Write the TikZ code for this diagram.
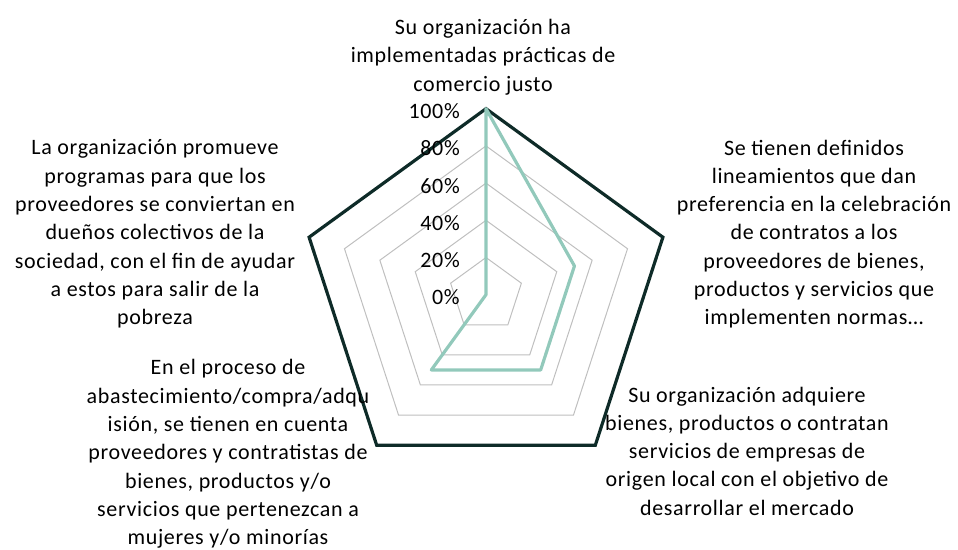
\documentclass[tikz,border=0pt]{standalone}
\usepackage{fontspec}
\setmainfont{Carlito}[LetterSpace=3]
\definecolor{serieA}{HTML}{92C9BB}
\definecolor{serieB}{HTML}{0E2B28}
\definecolor{gridc}{HTML}{BFBFBF}
\tikzset{
  lbl/.style={align=center, inner sep=0pt, font=\fontsize{16.5}{21.2}\selectfont},
  pct/.style={anchor=east, inner sep=0pt, font=\fontsize{16.5}{21}\selectfont},
  gridline/.style={draw=gridc, line width=0.75pt},
  outerline/.style={draw=serieB, line width=2.4pt, line join=miter},
  dataline/.style={draw=serieA, line width=2.4pt, line join=round}
}
\begin{document}
\begin{tikzpicture}[x=0.75pt, y=-0.75pt]
\useasboundingbox (0,0) rectangle (958,550);
\begin{scope}[shift={(486,294.7)}, x=0.75pt, y=0.75pt]
  \coordinate (C) at (0,0);
  \foreach \k in {1,2,3,4} {
    \draw[gridline] (90:{\k*37.2}) -- (18:{\k*37.2}) -- (-54:{\k*37.2}) -- (-126:{\k*37.2}) -- (162:{\k*37.2}) -- cycle;
  }
  \coordinate (v1) at (90:186);
  \coordinate (v2) at (18:186);
  \coordinate (v3) at (-54:186);
  \coordinate (v4) at (-126:186);
  \coordinate (v5) at (162:186);
  \coordinate (d1) at (90:186);
  \coordinate (d2) at (18:93);
  \coordinate (d3) at (-54:93);
  \coordinate (d4) at (-126:93);
  \coordinate (d5) at (C);
  \draw[outerline] (v1) -- (v2) -- (v3) -- (v4) -- (v5) -- cycle;
  \draw[dataline] (d1) -- (d2) -- (d3) -- (d4) -- (d5) -- cycle;
  \node[pct] (p0) at (-26,-2.5) {0\%};
  \node[pct] (p20) at (-26,{37.2-2.5}) {20\%};
  \node[pct] (p40) at (-26,{74.4-2.5}) {40\%};
  \node[pct] (p60) at (-26,{111.6-2.5}) {60\%};
  \node[pct] (p80) at (-26,{148.8-2.5}) {80\%};
  \node[pct] (p100) at (-26,{186-2.5}) {100\%};
\end{scope}
\node[lbl] (t1) at (483,57) {Su organización ha\\implementadas prácticas de\\comercio justo};
\node[lbl] (t2) at (814,234) {Se tienen definidos\\lineamientos que dan\\preferencia en la celebración\\de contratos a los\\proveedores de bienes,\\productos y servicios que\\implementen normas…};
\node[lbl] (t3) at (747,451) {Su organización adquiere\\bienes, productos o contratan\\servicios de empresas de\\origen local con el objetivo de\\desarrollar el mercado};
\node[lbl] (t4) at (228,454) {En el proceso de\\abastecimiento/compra/adqu\\isión, se tienen en cuenta\\proveedores y contratistas de\\bienes, productos y/o\\servicios que pertenezcan a\\mujeres y/o minorías};
\node[lbl] (t5) at (155,234) {La organización promueve\\programas para que los\\proveedores se conviertan en\\dueños colectivos de la\\sociedad, con el fin de ayudar\\a estos para salir de la\\pobreza};
\end{tikzpicture}
\end{document}
